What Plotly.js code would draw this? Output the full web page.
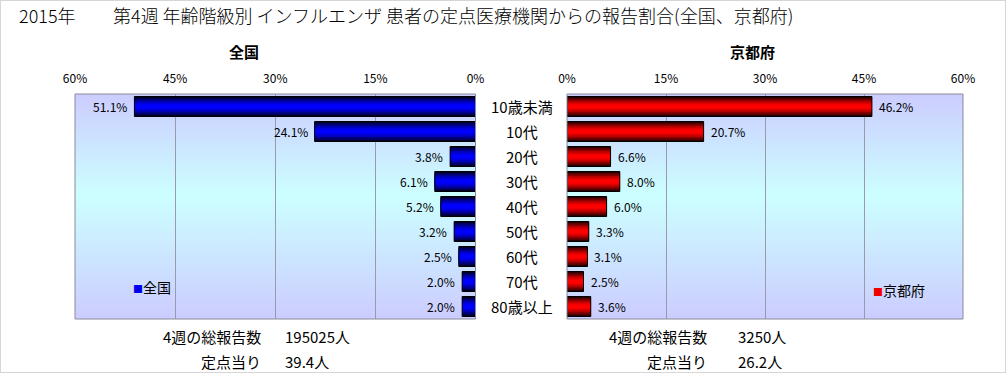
<!DOCTYPE html>
<html><head><meta charset="utf-8">
<script src="https://cdn.plot.ly/plotly-3.0.1.min.js"></script>
<style>html,body{margin:0;padding:0;background:#fff}</style>
</head><body><div id="chart" style="width:1006px;height:373px"></div>
<script>
// ---- data ----
const categories = ['10歳未満','10代','20代','30代','40代','50代','60代','70代','80歳以上'];
const national = [51.1, 24.1, 3.8, 6.1, 5.2, 3.2, 2.5, 2.0, 2.0];
const kyoto = [46.2, 20.7, 6.6, 8.0, 6.0, 3.3, 3.1, 2.5, 3.6];
const tickVals = [0, 15, 30, 45, 60];
const tickLabels = ['0%', '15%', '30%', '45%', '60%'];
const seriesNames = ['全国', '京都府'];
const totalLabel = '4週の総報告数';
const perSiteLabel = '定点当り';
const nationalTotal = '195025人';
const nationalPerSite = '39.4人';
const kyotoTotal = '3250人';
const kyotoPerSite = '26.2人';
const titleYear = '2015年';
const titleMain = '第4週 年齢階級別 インフルエンザ 患者の定点医療機関からの報告割合(全国、京都府)';

// ---- style ----
const W = 1006, H = 373;
const FONT = '"Noto Sans CJK JP", "Noto Sans", sans-serif';
const px = v => v / W;
const py = v => 1 - v / H;
const L = [75, 475.5], R = [567, 963], TOP = 94, BOT = 319;
const widths = [0.8, 0.68, 0.56, 0.44, 0.3, 0.16];
const blueShades = ['#000028', '#000058', '#000088', '#0000b8', '#0000e0', '#0000ff'];
const redShades = ['#280000', '#580000', '#880000', '#b80000', '#e00000', '#ff0000'];

const traces = [];
function addBars(vals, xa, shades) {
  widths.forEach((w, i) => {
    traces.push({type: 'bar', orientation: 'h', x: vals, y: categories, xaxis: xa, yaxis: 'y',
      width: w, marker: {color: shades[i], line: {width: 0}}, hoverinfo: 'skip', showlegend: false});
  });
  traces.push({type: 'bar', orientation: 'h', x: vals, y: categories, xaxis: xa, yaxis: 'y',
    width: 0.8, marker: {color: 'rgba(0,0,0,0)', line: {color: '#000', width: 1}}, hoverinfo: 'skip', showlegend: false});
}
addBars(national, 'x', blueShades);
addBars(kyoto, 'x2', redShades);

const annotations = [];
national.forEach((v, i) => annotations.push({x: v, y: categories[i], xref: 'x', yref: 'y', text: v.toFixed(1) + '%',
  showarrow: false, xanchor: 'right', xshift: -5, font: {size: 12}}));
kyoto.forEach((v, i) => annotations.push({x: v, y: categories[i], xref: 'x2', yref: 'y', text: v.toFixed(1) + '%',
  showarrow: false, xanchor: 'left', xshift: 5, font: {size: 12}}));
categories.forEach(c => annotations.push({x: px(521.5), xref: 'paper', y: c, yref: 'y', text: c, showarrow: false,
  xanchor: 'center', font: {size: 15}}));
function txt(x, y, t, anchor, size, extra) {
  annotations.push(Object.assign({x: px(x), y: py(y), xref: 'paper', yref: 'paper', text: t, showarrow: false,
    xanchor: anchor, yanchor: 'middle', font: {size: size}}, extra || {}));
}
txt(17, 15, titleYear, 'left', 18, {font: {size: 18, weight: 300}});
txt(111, 15, titleMain, 'left', 18, {font: {size: 18, weight: 300}});
txt(244, 52, '<b>' + seriesNames[0] + '</b>', 'center', 15);
txt(752, 52, '<b>' + seriesNames[1] + '</b>', 'center', 15);
txt(131, 287, '<span style="color:#0000ee;font-size:10px">■</span>' + seriesNames[0], 'left', 14);
txt(871, 290, '<span style="color:#ee0000;font-size:10px">■</span>' + seriesNames[1], 'left', 14);
txt(263, 336, totalLabel, 'right', 15);
txt(283, 336, nationalTotal, 'left', 15);
txt(263, 361, perSiteLabel, 'right', 15);
txt(283, 361, nationalPerSite, 'left', 15);
txt(709, 336, totalLabel, 'right', 15);
txt(736, 336, kyotoTotal, 'left', 15);
txt(709, 361, perSiteLabel, 'right', 15);
txt(736, 361, kyotoPerSite, 'left', 15);

const svg = "<svg xmlns='http://www.w3.org/2000/svg' width='10' height='100' viewBox='0 0 10 100' preserveAspectRatio='none'>" +
  "<defs><linearGradient id='g' x1='0' y1='0' x2='0' y2='1'>" +
  "<stop offset='0' stop-color='#ccccff'/><stop offset='0.45' stop-color='#ccffff'/><stop offset='1' stop-color='#ccccff'/>" +
  "</linearGradient></defs><rect width='10' height='100' fill='url(#g)'/></svg>";
const bgSrc = 'data:image/svg+xml,' + encodeURIComponent(svg);
const images = [L, R].map(d => ({source: bgSrc, xref: 'paper', yref: 'paper', x: px(d[0]), y: py(TOP),
  sizex: px(d[1] - d[0]), sizey: (BOT - TOP) / H, xanchor: 'left', yanchor: 'top', sizing: 'stretch', layer: 'below'}));

const axisCommon = {side: 'top', tickvals: tickVals, ticktext: tickLabels, showgrid: true, gridcolor: '#9a9aaa',
  gridwidth: 1, zeroline: false, ticks: '', showline: false, tickfont: {size: 12}, ticklabelstandoff: 8, fixedrange: true};

const layout = {
  width: W, height: H, margin: {l: 0, r: 0, t: 0, b: 0}, paper_bgcolor: '#fff', plot_bgcolor: 'rgba(0,0,0,0)',
  barmode: 'overlay', showlegend: false, font: {family: FONT, size: 11, color: '#000'},
  xaxis: Object.assign({}, axisCommon, {domain: [px(L[0]), px(L[1])], range: [60, 0], anchor: 'y'}),
  xaxis2: Object.assign({}, axisCommon, {domain: [px(R[0]), px(R[1])], range: [0, 60], anchor: 'y'}),
  yaxis: {domain: [py(BOT), py(TOP)], type: 'category', range: [8.5, -0.5], showticklabels: false, showgrid: false,
    zeroline: false, fixedrange: true},
  annotations: annotations,
  images: images,
  shapes: [
    {type: 'rect', xref: 'x domain', yref: 'y domain', x0: 0, x1: 1, y0: 0, y1: 1, line: {color: '#8a8a9a', width: 1}, layer: 'above'},
    {type: 'rect', xref: 'x2 domain', yref: 'y domain', x0: 0, x1: 1, y0: 0, y1: 1, line: {color: '#8a8a9a', width: 1}, layer: 'above'},
    {type: 'rect', xref: 'paper', yref: 'paper', x0: 0, x1: 1, y0: 0, y1: 1, line: {color: '#d6d6d6', width: 2}}
  ]
};
Plotly.newPlot('chart', traces, layout, {displayModeBar: false, staticPlot: true});
</script></body></html>
